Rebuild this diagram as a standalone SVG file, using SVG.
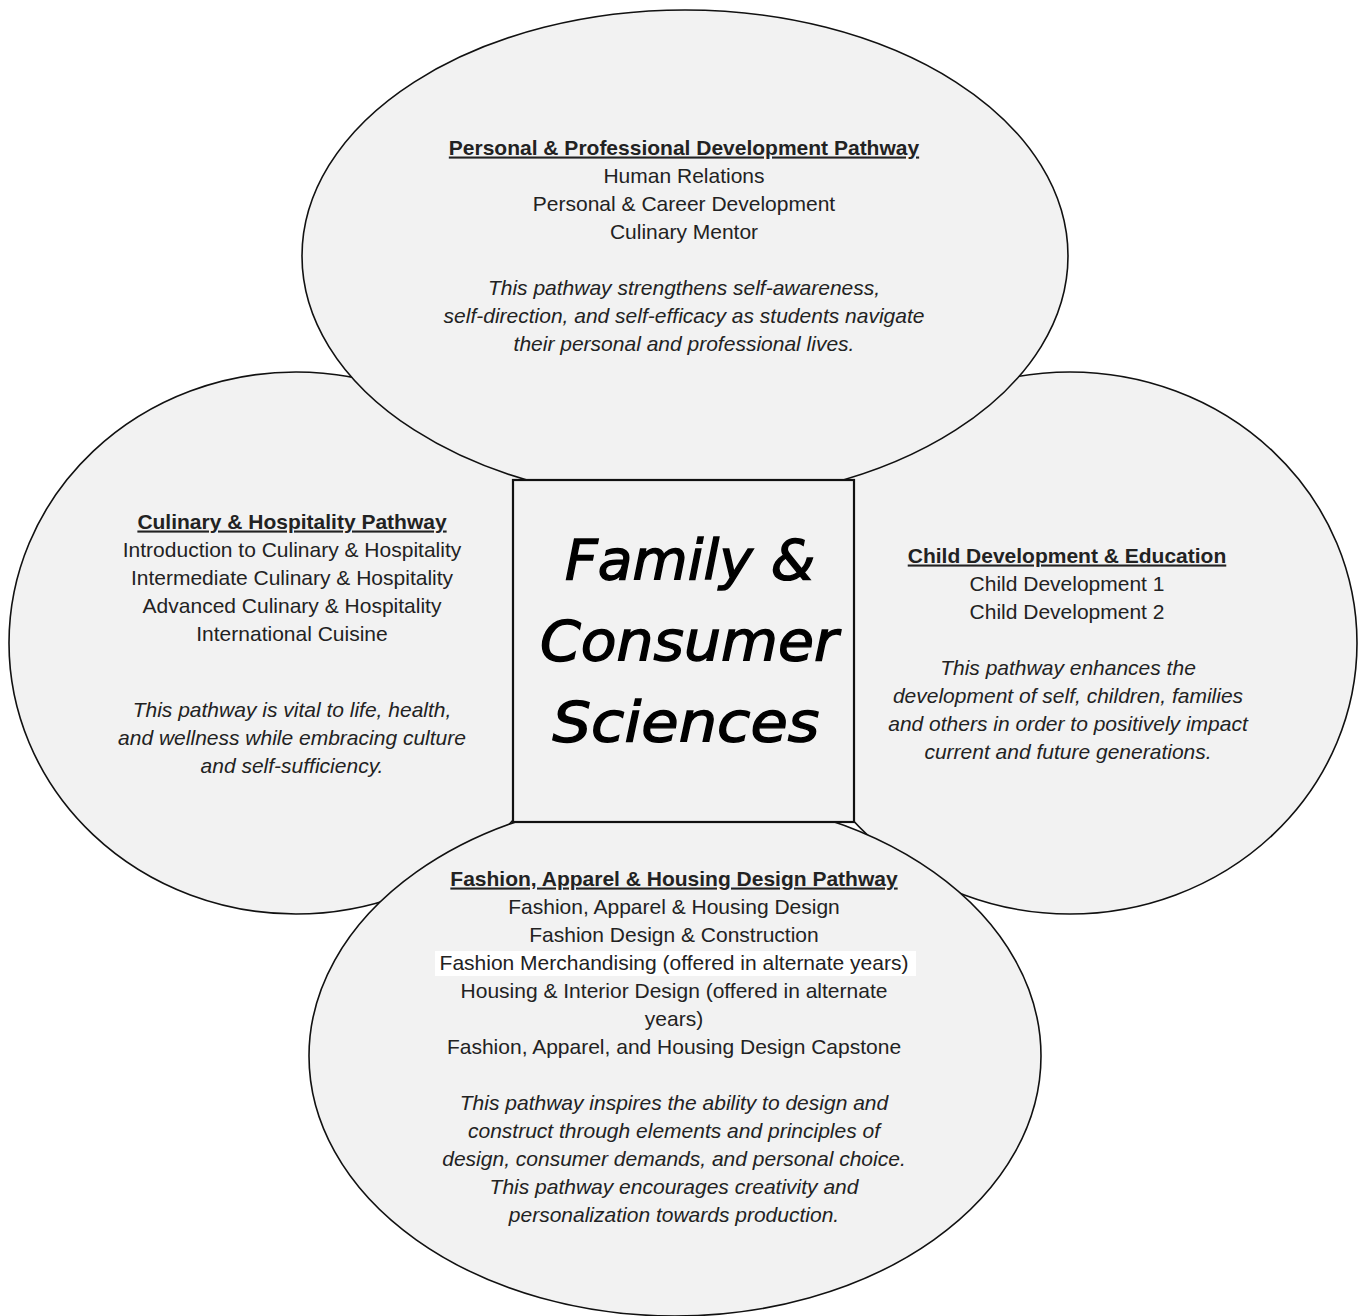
<svg xmlns="http://www.w3.org/2000/svg" width="1363" height="1316" viewBox="0 0 1363 1316">
<style>
.shape{fill:#f2f2f2;stroke:#111;stroke-width:1.6}
.box{fill:#f2f2f2;stroke:#111;stroke-width:2.2}
text{font-family:"Liberation Sans",Arial,sans-serif;font-size:21px;fill:#222;text-anchor:middle}
.h{font-weight:bold;text-decoration:underline}
.i{font-style:italic}
.title{font-family:"DejaVu Sans",sans-serif;font-style:oblique;font-size:56px;fill:#000;stroke:#000;stroke-width:1.4}
</style>
<rect x="0" y="0" width="1363" height="1316" fill="#ffffff"/>
<g id="culinary">
<ellipse class="shape" cx="296" cy="643" rx="287" ry="271"/>
<text class="h" x="292" y="528.5">Culinary &amp; Hospitality Pathway</text>
<text x="292" y="556.5">Introduction to Culinary &amp; Hospitality</text>
<text x="292" y="584.5">Intermediate Culinary &amp; Hospitality</text>
<text x="292" y="612.5">Advanced Culinary &amp; Hospitality</text>
<text x="292" y="640.5">International Cuisine</text>
<text class="i" x="292" y="716.5">This pathway is vital to life, health,</text>
<text class="i" x="292" y="744.5">and wellness while embracing culture</text>
<text class="i" x="292" y="772.5">and self-sufficiency.</text>
</g>
<g id="child">
<ellipse class="shape" cx="1070" cy="643" rx="287" ry="271"/>
<text class="h" x="1067" y="562.5">Child Development &amp; Education</text>
<text x="1067" y="590.5">Child Development 1</text>
<text x="1067" y="618.5">Child Development 2</text>
<text class="i" x="1068" y="674.5">This pathway enhances the</text>
<text class="i" x="1068" y="702.5">development of self, children, families</text>
<text class="i" x="1068" y="730.5">and others in order to positively impact</text>
<text class="i" x="1068" y="758.5">current and future generations.</text>
</g>
<g id="personal">
<ellipse class="shape" cx="685" cy="256" rx="383" ry="246"/>
<text class="h" x="684" y="154.5">Personal &amp; Professional Development Pathway</text>
<text x="684" y="182.5">Human Relations</text>
<text x="684" y="210.5">Personal &amp; Career Development</text>
<text x="684" y="238.5">Culinary Mentor</text>
<text class="i" x="684" y="294.5">This pathway strengthens self-awareness,</text>
<text class="i" x="684" y="322.5">self-direction, and self-efficacy as students navigate</text>
<text class="i" x="684" y="350.5">their personal and professional lives.</text>
</g>
<g id="fashion">
<ellipse class="shape" cx="675" cy="1056" rx="366" ry="260"/>
<rect x="435" y="951" width="481" height="25" fill="#ffffff"/>
<text class="h" x="674" y="885.5">Fashion, Apparel &amp; Housing Design Pathway</text>
<text x="674" y="913.5">Fashion, Apparel &amp; Housing Design</text>
<text x="674" y="941.5">Fashion Design &amp; Construction</text>
<text x="674" y="969.5">Fashion Merchandising (offered in alternate years)</text>
<text x="674" y="997.5">Housing &amp; Interior Design (offered in alternate</text>
<text x="674" y="1025.5">years)</text>
<text x="674" y="1053.5">Fashion, Apparel, and Housing Design Capstone</text>
<text class="i" x="674" y="1109.5">This pathway inspires the ability to design and</text>
<text class="i" x="674" y="1137.5">construct through elements and principles of</text>
<text class="i" x="674" y="1165.5">design, consumer demands, and personal choice.</text>
<text class="i" x="674" y="1193.5">This pathway encourages creativity and</text>
<text class="i" x="674" y="1221.5">personalization towards production.</text>
</g>
<g id="center">
<rect class="box" x="513" y="480" width="341" height="342"/>
<text class="title" x="690" y="579" textLength="250" lengthAdjust="spacingAndGlyphs">Family &amp;</text>
<text class="title" x="689" y="660" textLength="298" lengthAdjust="spacingAndGlyphs">Consumer</text>
<text class="title" x="686" y="741" textLength="267" lengthAdjust="spacingAndGlyphs">Sciences</text>
</g>
</svg>
